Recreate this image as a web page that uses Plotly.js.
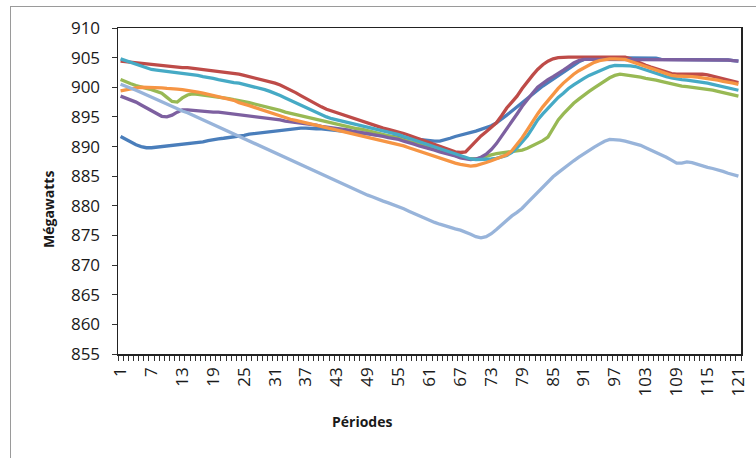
<!DOCTYPE html>
<html>
<head>
<meta charset="utf-8">
<script src="https://cdn.plot.ly/plotly-3.0.1.min.js"></script>
<style>
  html, body { margin: 0; padding: 0; background: #ffffff; }
  #wrap { position: relative; width: 756px; height: 458px; overflow: hidden; }
  #frame { position: absolute; left: 10px; top: 6px; width: 800px; height: 500px; border: 1px solid #9a9a9a; }
  #chart { position: absolute; left: 0; top: 0; width: 756px; height: 458px; }
</style>
</head>
<body>
<div id="wrap">
  <div id="frame"></div>
  <div id="chart"></div>
</div>
<script>
// Categories (périodes 1..121)
const periods = Array.from({length: 121}, (_, i) => i + 1);
const tickLabels = [1, 7, 13, 19, 25, 31, 37, 43, 49, 55, 61, 67, 73, 79, 85, 91, 97, 103, 109, 115, 121];

const serie1 = [
  891.7, 891.2, 890.7, 890.3, 890.0, 889.8, 889.8, 889.9, 890.0, 890.0,
  890.1, 890.2, 890.4, 890.5, 890.5, 890.6, 890.8, 891.0, 891.2, 891.3,
  891.4, 891.5, 891.6, 891.8, 891.9, 892.1, 892.2, 892.3, 892.4, 892.5,
  892.6, 892.8, 892.9, 893.0, 893.1, 893.1, 893.1, 893.0, 893.0, 893.0,
  892.9, 892.8, 892.8, 892.7, 892.6, 892.5, 892.4, 892.3, 892.2, 892.0,
  891.9, 891.8, 891.7, 891.6, 891.5, 891.4, 891.3, 891.2, 891.1, 891.0,
  890.9, 890.9, 890.9, 891.1, 891.4, 891.7, 891.9, 892.1, 892.3, 892.6,
  892.9, 893.2, 893.5, 894.0, 894.6, 895.3, 896.0, 896.7, 897.4, 898.2,
  898.9, 899.6, 900.2, 900.8, 901.4, 902.0, 902.6, 903.2, 903.8, 904.3,
  904.7, 904.9, 905.0, 905.0, 905.0, 905.0, 905.0, 905.0, 905.0, 905.0,
  905.0, 905.0, 905.0, 905.0, 904.9, 904.7, 904.7, 904.7, 904.7, 904.7,
  904.7, 904.7, 904.7, 904.7, 904.7, 904.7, 904.7, 904.7, 904.6, 904.5, 904.4
];
const serie2 = [
  904.4, 904.3, 904.2, 904.1, 904.0, 903.9, 903.9, 903.8, 903.7, 903.6,
  903.5, 903.4, 903.3, 903.3, 903.2, 903.1, 903.0, 902.9, 902.8, 902.7,
  902.6, 902.5, 902.3, 902.2, 902.0, 901.8, 901.6, 901.4, 901.2, 901.0,
  900.7, 900.4, 900.0, 899.6, 899.1, 898.6, 898.1, 897.6, 897.1, 896.7,
  896.3, 896.0, 895.7, 895.4, 895.1, 894.8, 894.5, 894.2, 893.9, 893.6,
  893.3, 893.1, 892.9, 892.7, 892.5, 892.2, 891.9, 891.6, 891.3, 891.0,
  890.7, 890.4, 890.1, 889.8, 889.4, 889.1, 889.0, 889.1, 890.0, 891.0,
  891.8, 892.5, 893.2, 894.0, 895.2, 896.5, 897.5, 898.5, 899.8, 901.0,
  902.0, 903.0, 903.8, 904.4, 904.8, 905.0, 905.1, 905.1, 905.1, 905.1,
  905.1, 905.1, 905.1, 905.1, 905.1, 905.1, 905.1, 905.1, 905.1, 904.8,
  904.4, 904.1, 903.7, 903.4, 903.1, 902.8, 902.5, 902.3, 902.2, 902.2,
  902.2, 902.3, 902.3, 902.2, 902.1, 901.9, 901.7, 901.5, 901.3, 901.0, 900.8
];
const serie3 = [
  901.3, 900.9, 900.6, 900.3, 900.0, 899.8, 899.6, 899.3, 899.0, 898.3,
  897.6, 897.5, 898.2, 898.7, 898.9, 898.8, 898.7, 898.6, 898.5, 898.4,
  898.2, 898.1, 897.9, 897.8, 897.6, 897.4, 897.2, 897.0, 896.8, 896.6,
  896.3, 896.1, 895.8, 895.6, 895.3, 895.1, 894.9, 894.7, 894.5, 894.3,
  894.1, 894.0, 893.8, 893.6, 893.4, 893.2, 893.0, 892.9, 892.7, 892.5,
  892.3, 892.1, 891.9, 891.6, 891.4, 891.1, 890.9, 890.6, 890.4, 890.1,
  889.9, 889.6, 889.3, 889.0, 888.7, 888.4, 888.2, 888.0, 887.9, 887.9,
  888.1, 888.4, 888.6, 888.8, 888.9, 889.0, 889.1, 889.2, 889.4, 889.7,
  890.1, 890.5, 891.0, 891.6, 893.0, 894.5, 895.5, 896.5, 897.3, 898.0,
  898.7, 899.3, 899.9, 900.5, 901.1, 901.6, 902.0, 902.2, 902.1, 902.0,
  901.9, 901.7, 901.5, 901.4, 901.2, 901.0, 900.8, 900.5, 900.3, 900.2,
  900.1, 900.0, 899.9, 899.8, 899.7, 899.5, 899.3, 899.1, 898.9, 898.7, 898.5
];
const serie4 = [
  898.5, 898.2, 897.9, 897.5, 897.0, 896.5, 896.0, 895.5, 895.1, 895.0,
  895.3, 895.8, 896.2, 896.2, 896.1, 896.0, 895.9, 895.9, 895.8, 895.8,
  895.7, 895.6, 895.5, 895.4, 895.3, 895.2, 895.0, 894.9, 894.8, 894.7,
  894.6, 894.5, 894.3, 894.2, 894.1, 894.0, 893.8, 893.7, 893.6, 893.4,
  893.3, 893.1, 893.0, 892.9, 892.8, 892.6, 892.5, 892.3, 892.2, 892.0,
  891.9, 891.7, 891.5, 891.4, 891.2, 890.9, 890.7, 890.4, 890.1, 889.9,
  889.6, 889.4, 889.1, 888.9, 888.6, 888.4, 888.1, 887.9, 887.8, 887.9,
  888.2, 888.7, 889.5, 890.5, 891.7, 893.0, 894.2, 895.5, 896.8, 898.0,
  899.0, 900.0, 900.7, 901.3, 901.8, 902.3, 902.9, 903.5, 904.1, 904.5,
  904.7, 904.7, 904.7, 904.7, 904.7, 904.7, 904.7, 904.7, 904.7, 904.7,
  904.7, 904.7, 904.7, 904.7, 904.7, 904.7, 904.7, 904.7, 904.7, 904.7,
  904.7, 904.7, 904.7, 904.7, 904.7, 904.7, 904.7, 904.7, 904.6, 904.5, 904.4
];
const serie5 = [
  904.8, 904.5, 904.1, 903.8, 903.5, 903.2, 903.0, 902.9, 902.8, 902.7,
  902.6, 902.4, 902.3, 902.2, 902.1, 902.0, 901.8, 901.7, 901.5, 901.3,
  901.1, 900.9, 900.8, 900.7, 900.5, 900.3, 900.0, 899.8, 899.6, 899.3,
  899.0, 898.6, 898.2, 897.8, 897.4, 897.0, 896.5, 896.1, 895.7, 895.3,
  895.0, 894.7, 894.5, 894.3, 894.1, 893.8, 893.6, 893.4, 893.2, 893.0,
  892.8, 892.6, 892.4, 892.2, 892.0, 891.7, 891.4, 891.1, 890.8, 890.5,
  890.3, 890.0, 889.7, 889.4, 889.1, 888.7, 888.4, 888.1, 887.9, 887.8,
  887.8, 887.8, 887.9, 888.0, 888.2, 888.5, 889.0, 889.8, 890.8, 891.8,
  893.1, 894.5, 895.5, 896.5, 897.4, 898.3, 899.0, 899.8, 900.4, 901.0,
  901.5, 902.0, 902.4, 902.8, 903.2, 903.5, 903.7, 903.7, 903.7, 903.6,
  903.5, 903.2, 902.9, 902.6, 902.4, 902.1, 901.8, 901.6, 901.4, 901.3,
  901.2, 901.1, 901.0, 900.9, 900.7, 900.5, 900.3, 900.1, 899.9, 899.7, 899.5
];
const serie6 = [
  899.4, 899.6, 899.8, 899.9, 900.0, 900.0, 900.0, 900.0, 899.9, 899.8,
  899.8, 899.7, 899.6, 899.5, 899.4, 899.2, 899.0, 898.8, 898.6, 898.4,
  898.2, 898.0, 897.8, 897.4, 897.2, 896.9, 896.6, 896.3, 896.0, 895.7,
  895.4, 895.1, 894.8, 894.6, 894.4, 894.2, 894.0, 893.8, 893.6, 893.4,
  893.2, 893.0, 892.8, 892.5, 892.3, 892.1, 891.9, 891.7, 891.6, 891.4,
  891.2, 891.0, 890.8, 890.6, 890.4, 890.1, 889.8, 889.5, 889.2, 888.9,
  888.7, 888.4, 888.1, 887.8, 887.5, 887.2, 887.0, 886.8, 886.7, 886.8,
  887.0, 887.3, 887.6, 887.9, 888.2, 888.6, 889.3, 890.3, 891.5, 892.8,
  894.2, 895.5, 896.7, 897.8, 898.8, 899.8, 900.7, 901.5, 902.2, 902.8,
  903.3, 903.8, 904.2, 904.5, 904.7, 904.8, 904.8, 904.8, 904.7, 904.4,
  904.1, 903.7, 903.4, 903.1, 902.8, 902.5, 902.2, 902.0, 901.9, 901.9,
  901.8, 901.8, 901.7, 901.6, 901.5, 901.4, 901.2, 901.0, 900.9, 900.7, 900.5
];
const serie7 = [
  900.5, 900.2, 899.9, 899.5, 899.1, 898.7, 898.3, 897.9, 897.5, 897.2,
  896.8, 896.4, 896.0, 895.7, 895.3, 894.9, 894.5, 894.1, 893.7, 893.3,
  892.9, 892.5, 892.1, 891.8, 891.4, 891.0, 890.6, 890.2, 889.8, 889.4,
  889.0, 888.6, 888.2, 887.8, 887.4, 887.0, 886.6, 886.2, 885.8, 885.4,
  885.0, 884.6, 884.2, 883.8, 883.4, 883.0, 882.6, 882.2, 881.8, 881.5,
  881.1, 880.8, 880.5, 880.2, 879.9, 879.5, 879.1, 878.7, 878.3, 877.9,
  877.5, 877.2, 876.9, 876.6, 876.3, 876.1, 875.9, 875.6, 875.2, 874.8,
  874.6, 874.8, 875.3, 876.0, 876.8, 877.6, 878.3, 878.9, 879.6, 880.5,
  881.4, 882.3, 883.2, 884.1, 884.9, 885.6, 886.3, 887.0, 887.6, 888.2,
  888.8, 889.4, 889.9, 890.4, 890.9, 891.2, 891.2, 891.1, 890.9, 890.7,
  890.5, 890.2, 889.8, 889.4, 889.1, 888.7, 888.2, 887.7, 887.2, 887.2,
  887.4, 887.3, 887.0, 886.7, 886.5, 886.3, 886.1, 885.8, 885.5, 885.2, 885.0
];

const seriesList = [serie1, serie2, serie3, serie4, serie5, serie6, serie7];
const colors = ['#4A7EBB', '#BE4B48', '#98B954', '#7D60A0', '#46AAC5', '#F69544', '#98B4DA'];
const names = ['Série 1', 'Série 2', 'Série 3', 'Série 4', 'Série 5', 'Série 6', 'Série 7'];

const traces = seriesList.map((ys, k) => ({
  type: 'scatter',
  mode: 'lines',
  x: periods,
  y: ys,
  name: names[k],
  line: { color: colors[k], width: 3.3 },
  hoverinfo: 'skip'
}));

const font = 'Open Sans, Noto Sans, DejaVu Sans, sans-serif';

const layout = {
  width: 756,
  height: 458,
  margin: { l: 118, r: 15, t: 28, b: 104 },
  paper_bgcolor: 'rgba(0,0,0,0)',
  plot_bgcolor: '#ffffff',
  showlegend: false,
  font: { family: font, color: '#1a1a1a' },
  xaxis: {
    type: 'linear',
    range: [0.5, 121.5],
    tickmode: 'array',
    tickvals: tickLabels,
    ticktext: tickLabels.map(String),
    tickangle: -90,
    ticks: 'outside',
    ticklen: 5,
    tickcolor: 'rgba(0,0,0,0)',
    tickfont: { size: 17, family: font, color: '#1a1a1a' },
    showgrid: false,
    zeroline: false,
    showline: true,
    linecolor: '#222',
    linewidth: 1.5,
    mirror: true,
    minor: { tickmode: 'linear', tick0: 0.5, dtick: 1, ticks: 'outside', ticklen: 5, tickcolor: '#333', tickwidth: 1, showgrid: false }
  },
  yaxis: {
    range: [855, 910],
    tickmode: 'linear',
    tick0: 855,
    dtick: 5,
    ticks: 'outside',
    ticklen: 5,
    tickcolor: '#333',
    ticklabelstandoff: 8,
    tickfont: { size: 17, family: font, color: '#1a1a1a' },
    showgrid: false,
    zeroline: false,
    showline: true,
    linecolor: '#222',
    linewidth: 1.5,
    mirror: true
  },
  annotations: [
    {
      text: '<b>Mégawatts</b>', xref: 'paper', yref: 'paper',
      x: (48 - 118) / 623, y: (354 - 210) / 326, xanchor: 'center', yanchor: 'middle',
      textangle: -90, showarrow: false, font: { size: 14, family: font, color: '#1a1a1a' }
    },
    {
      text: '<b>Périodes</b>', xref: 'paper', yref: 'paper',
      x: (362 - 118) / 623, y: -(422 - 354) / 326, xanchor: 'center', yanchor: 'middle',
      showarrow: false, font: { size: 14, family: font, color: '#1a1a1a' }
    }
  ]
};

Plotly.newPlot('chart', traces, layout, { displayModeBar: false, staticPlot: true, responsive: false });
</script>
</body>
</html>
